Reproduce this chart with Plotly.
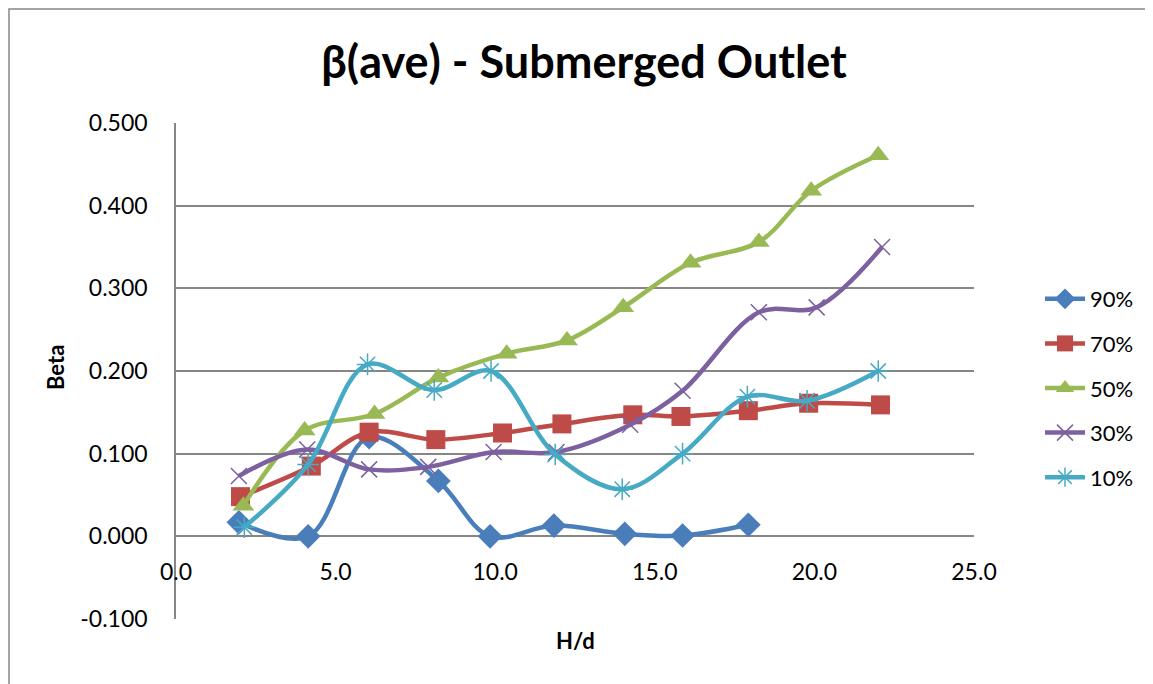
import plotly.graph_objects as go

x90 = [1.97, 4.14, 6.05, 8.22, 9.84, 11.84, 14.06, 15.87, 17.93]
y90 = [0.017, 0.000, 0.120, 0.067, 0.000, 0.013, 0.003, 0.001, 0.014]

x70 = [2.02, 4.24, 6.05, 8.14, 10.23, 12.09, 14.31, 15.82, 17.93, 19.82, 22.07]
y70 = [0.048, 0.085, 0.126, 0.117, 0.125, 0.136, 0.147, 0.145, 0.152, 0.161, 0.159]

x50 = [2.11, 4.03, 6.22, 8.22, 10.36, 12.25, 14.01, 16.12, 18.26, 19.90, 22.00]
y50 = [0.037, 0.128, 0.148, 0.192, 0.221, 0.237, 0.277, 0.331, 0.356, 0.418, 0.461]

x30 = [1.97, 4.11, 6.05, 7.90, 9.95, 11.92, 14.23, 15.87, 18.26, 20.07, 22.12]
y30 = [0.073, 0.105, 0.081, 0.084, 0.102, 0.102, 0.135, 0.176, 0.271, 0.277, 0.350]

x10 = [2.14, 4.14, 6.00, 8.09, 9.87, 11.88, 13.98, 15.87, 17.90, 19.77, 22.00]
y10 = [0.011, 0.087, 0.208, 0.177, 0.200, 0.099, 0.057, 0.100, 0.169, 0.164, 0.200]

series_names = ["90%", "70%", "50%", "30%", "10%"]
colors = ["#4A7EBB", "#BE4B48", "#98B954", "#7D60A0", "#46AAC5"]
symbols = ["diamond", "square", "triangle-up", "x-thin-open", "asterisk-open"]
sizes = [19, 19, 19, 16, 18]

y_tickvals = [-0.1, 0.0, 0.1, 0.2, 0.3, 0.4, 0.5]
y_ticktext = ["-0.100", "0.000", "0.100", "0.200", "0.300", "0.400", "0.500"]
x_tickvals = [0, 5, 10, 15, 20, 25]
x_ticktext = ["0.0", "5.0", "10.0", "15.0", "20.0", "25.0"]

FONT = "Lato, 'Open Sans', sans-serif"

# figure is drawn inside a page with an 8px body margin
W, H = 1145, 676
L, T, R, B = 168, 115, 179, 65
PW, PH = W - L - R, H - T - B

fig = go.Figure()
data = [(x90, y90), (x70, y70), (x50, y50), (x30, y30), (x10, y10)]
for i, (xs, ys) in enumerate(data):
    marker = dict(symbol=symbols[i], size=sizes[i], color=colors[i])
    if "open" in symbols[i]:
        marker["line"] = dict(color=colors[i], width=1.5)
    fig.add_trace(go.Scatter(
        x=xs, y=ys, name=series_names[i], mode="lines+markers",
        line=dict(color=colors[i], width=4.5, shape="spline", smoothing=1.0),
        marker=marker, legendgroup=series_names[i],
    ))

fig.update_layout(
    width=W, height=H,
    margin=dict(l=L, r=R, t=T, b=B, autoexpand=False),
    paper_bgcolor="white", plot_bgcolor="white",
    font=dict(family=FONT, size=22, color="black"),
    title=dict(text="<b>β(ave) - Submerged Outlet</b>", x=(584 - 8) / W, xanchor="center",
               y=1 - 54 / H, yanchor="middle", font=dict(size=45, family=FONT)),
    showlegend=True,
    legend=dict(x=(1040 - 8 - L) / PW, y=(611 - 270) / PH, xanchor="left", yanchor="top",
                traceorder="grouped", tracegroupgap=13,
                font=dict(size=22, family=FONT), itemwidth=40),
    xaxis=dict(range=[0, 25], tickvals=x_tickvals, ticktext=x_ticktext,
               showgrid=False, zeroline=False, showline=False,
               anchor="free", position=(0 - (-0.1)) / 0.6, ticks="",
               tickfont=dict(size=23), ticklabelstandoff=20),
    yaxis=dict(range=[-0.1, 0.5], tickvals=y_tickvals, ticktext=y_ticktext,
               showgrid=True, gridcolor="#868686", gridwidth=1.5,
               zeroline=False, showline=True, linecolor="#868686", linewidth=1.5,
               ticks="", tickfont=dict(size=23), ticklabelstandoff=22),
    annotations=[
        dict(text="<b>H/d</b>", x=0.5, y=-21 / PH, xref="paper", yref="paper",
             xanchor="center", yanchor="middle", showarrow=False, font=dict(size=22)),
        dict(text="<b>Beta</b>", x=(47 - L) / PW, y=(611 - 360) / PH, xref="paper", yref="paper",
             xanchor="center", yanchor="middle", showarrow=False, textangle=-90,
             font=dict(size=22)),
    ],
    shapes=[dict(type="rect", xref="paper", yref="paper",
                 x0=(1 - L) / PW, x1=(W + 20 - L) / PW,
                 y0=(PH + T - H - 20) / PH, y1=(PH + T - 1) / PH,
                 line=dict(color="#868686", width=1.5), layer="below")],
)

fig.write_html("out.html")
